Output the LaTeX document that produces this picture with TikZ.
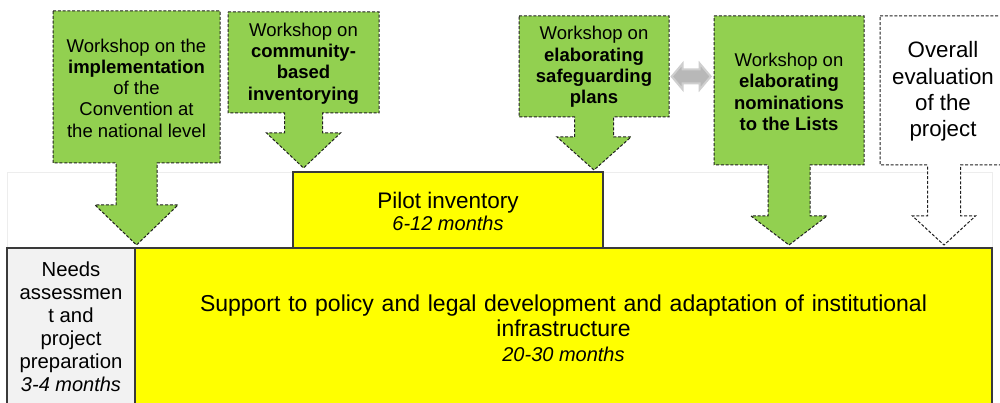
\documentclass[tikz,border=0pt]{standalone}
\usepackage{fontspec}
\setmainfont{Liberation Sans}
\usetikzlibrary{calc}
\definecolor{wsgreen}{HTML}{92D050}
\definecolor{boxyellow}{HTML}{FFFF00}
\definecolor{needsgray}{HTML}{F2F2F2}
\definecolor{edgecol}{HTML}{3A3A3A}
\definecolor{dashcol}{HTML}{202020}
\definecolor{dblgray}{HTML}{B8B8B8}
\definecolor{dbllight}{HTML}{CFCFCF}
\tikzset{
  calloutline/.style={draw=dashcol, line width=1pt, dash pattern=on 3pt off 1.8pt, line join=miter},
  greencall/.style={calloutline, fill=wsgreen},
  whitecall/.style={calloutline, fill=white},
  phasebox/.style={draw=edgecol, line width=1.3pt},
  faintbox/.style={draw=black!7, line width=0.8pt, fill=white},
  wstext/.style={align=center, inner sep=0pt, font=\fontsize{18.5}{21.3}\selectfont},
  evaltext/.style={align=center, inner sep=0pt, font=\fontsize{22.3}{26.4}\selectfont},
  needstext/.style={align=center, inner sep=0pt, font=\fontsize{20.3}{23}\selectfont},
  pilottext/.style={align=center, inner sep=0pt, font=\fontsize{22.5}{22.5}\selectfont},
  supporttext/.style={align=center, inner sep=0pt, font=\fontsize{23}{25.5}\selectfont},
  dblarrow/.style={fill=dblgray, draw=dbllight, line width=2pt, line join=miter},
}
% #1 style, #2 cx, #3 box half width, #4 top, #5 box bottom, #6 stem half width, #7 head y, #8 head half width, #9 tip y
\newcommand\calloutshape[9]{%
  \path[#1] ({#2-#3},#4) -- ({#2+#3},#4) -- ({#2+#3},#5) -- ({#2+#6},#5) -- ({#2+#6},#7)
    -- ({#2+#8},#7) -- (#2,#9) -- ({#2-#8},#7) -- ({#2-#6},#7) -- ({#2-#6},#5)
    -- ({#2-#3},#5) -- cycle;}
\begin{document}
\begin{tikzpicture}[x=1pt,y=-1pt]
\useasboundingbox (0,0) rectangle (1000,403);
\clip (0,0) rectangle (1000,403);
% faint background band
\path[faintbox] (7,172) rectangle (992,248);
% pilot inventory
\path[phasebox, fill=boxyellow] (293,172) rectangle (603,248);
\node[pilottext] (pilot) at (448,211) {Pilot inventory\\[-0.5pt]{\fontsize{20}{22}\selectfont\itshape 6-12 months}};
% bottom phases
\path[phasebox, fill=needsgray] (7,248) rectangle (135,412);
\path[phasebox, fill=boxyellow] (135,248) rectangle (992,412);
\node[needstext] (needs) at (71,327) {Needs\\assessmen\\t and\\project\\preparation\\{\fontsize{20}{23}\selectfont\itshape 3-4 months}};
\node[supporttext] (support) at (563.5,328) {\makebox[727pt][s]{Support to policy and legal development and adaptation of institutional}\\infrastructure\\[-1pt]{\fontsize{20}{23}\selectfont\itshape 20-30 months}};
% callouts
\calloutshape{greencall}{136.5}{83.5}{11}{163}{20.5}{205}{41.5}{245}
\node[wstext] (impl) at (136.5,88) {Workshop on the\\\textbf{implementation}\\of the\\Convention at\\the national level};
\calloutshape{greencall}{303.5}{75.5}{12}{113}{19}{133}{37}{168}
\node[wstext] (comm) at (303.5,63.5) {Workshop on\\\textbf{community-}\\\textbf{based}\\\textbf{inventorying}};
\calloutshape{greencall}{594}{75}{16}{117}{19.5}{137}{37}{170}
\node[wstext, minimum width=150pt, minimum height=101pt] (safe) at (594,67) {Workshop on\\\textbf{elaborating}\\\textbf{safeguarding}\\\textbf{plans}};
\calloutshape{greencall}{789}{75}{16}{165}{21}{216}{38}{245}
\node[wstext, minimum width=150pt] (nom) at (789,92) {Workshop on\\\textbf{elaborating}\\\textbf{nominations}\\\textbf{to the Lists}};
\calloutshape{whitecall}{944}{64}{16}{165}{16.5}{216}{31.5}{245}
\node[evaltext] (eval) at (943,91.5) {Overall\\evaluation\\of the\\project};
% double arrow between the two workshops
\coordinate (dl) at ([xshift=2.5pt,yshift=-9.5pt]safe.east);
\path[dblarrow] (dl) -- ++(11,-13) -- ++(0,6) -- ++(17,0) -- ++(0,-6) -- ++(11,13)
  -- ++(-11,13) -- ++(0,-6) -- ++(-17,0) -- ++(0,6) -- cycle;
\end{tikzpicture}
\end{document}
